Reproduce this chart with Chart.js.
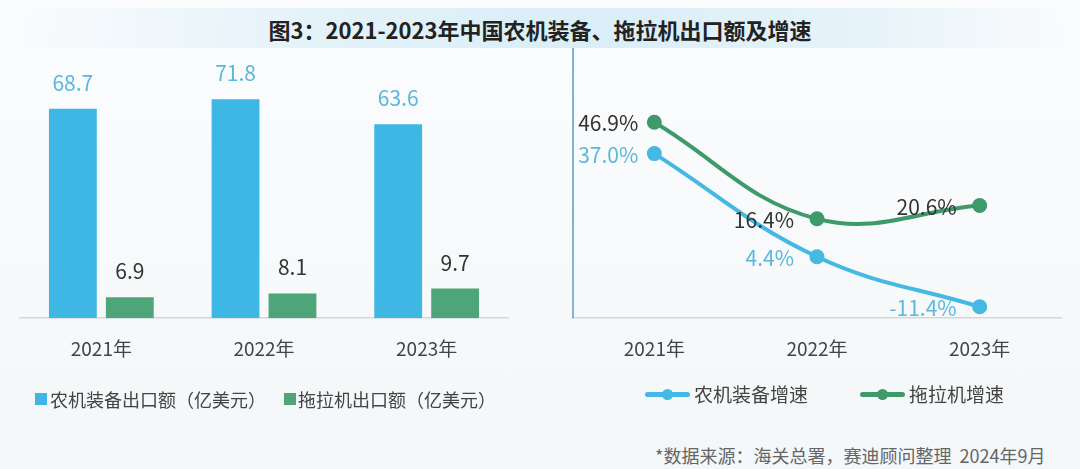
<!DOCTYPE html>
<html lang="zh">
<head>
<meta charset="utf-8">
<script src="https://cdn.jsdelivr.net/npm/chart.js@4.4.1/dist/chart.umd.min.js"></script>
<style>
  html, body { margin: 0; padding: 0; }
  body {
    width: 1080px; height: 469px; position: relative; overflow: hidden;
    background: linear-gradient(180deg, #fbfcfd 0%, #f4f7f9 100%);
    font-family: "Noto Sans CJK SC", "Noto Sans", sans-serif;
    color: #444;
  }
  .band {
    position: absolute; left: 0; top: 8px; width: 1080px; height: 40px;
    background: linear-gradient(90deg, rgba(255,255,255,0) 0%, #e3f2f9 30%, #d9eef8 55%, #e6f3f9 80%, rgba(255,255,255,0) 100%);
  }
  .title {
    position: absolute; left: 0; top: 12px; width: 1080px; text-align: center;
    font-size: 22px; font-weight: bold; color: #222; line-height: 34px;
  }
  canvas { position: absolute; }
  #barChart { left: 0; top: 50px; }
  #lineChart { left: 540px; top: 48px; }
  .legend { position: absolute; font-size: 18px; line-height: 24px; color: #444; white-space: nowrap; }
  .sq { position: absolute; width: 12px; height: 12px; }
  .sw { position: absolute; width: 45px; height: 5px; border-radius: 3px; }
  .sw::after { content: ""; position: absolute; left: 17px; top: -3px; width: 11px; height: 11px; border-radius: 50%; background: inherit; }
  .source { position: absolute; left: 655px; top: 442px; font-size: 18px; color: #666; line-height: 26px; white-space: nowrap; }
</style>
</head>
<body>
<div class="band"></div>
<div class="title">图3：2021-2023年中国农机装备、拖拉机出口额及增速</div>
<canvas id="barChart" width="540" height="340"></canvas>
<canvas id="lineChart" width="540" height="342"></canvas>

<div class="sq" style="left:35px; top:393px; background:#3fb7e5;"></div>
<div class="legend" style="left:50px; top:387px;">农机装备出口额（亿美元）</div>
<div class="sq" style="left:284px; top:393px; background:#4ea57a;"></div>
<div class="legend" style="left:298px; top:387px;">拖拉机出口额（亿美元）</div>

<div class="sw" style="left:645px; top:392px; background:#45b8e4;"></div>
<div class="legend" style="left:694px; top:382px; font-size:19px;">农机装备增速</div>
<div class="sw" style="left:860px; top:392px; background:#3f9a6b;"></div>
<div class="legend" style="left:909px; top:382px; font-size:19px;">拖拉机增速</div>

<div class="source">*数据来源：海关总署，赛迪顾问整理&nbsp;&nbsp;2024年9月</div>

<script>
// Data
const years = ['2021年', '2022年', '2023年'];
const equipExport = [68.7, 71.8, 63.6];   // 农机装备出口额（亿美元）
const tractorExport = [6.9, 8.1, 9.7];    // 拖拉机出口额（亿美元）
const equipGrowth = [37.0, 4.4, -11.4];   // 农机装备增速 %
const tractorGrowth = [46.9, 16.4, 20.6]; // 拖拉机增速 %

const BLUE = '#3fb7e5';
const GREEN_BAR = '#4ea57a';
const BLUE_LINE = '#45b8e4';
const GREEN_LINE = '#3f9a6b';
const BLUE_TEXT = '#5ab8dc';
const DARK_TEXT = '#333333';
const FONT = '"Noto Sans CJK SC", "Noto Sans", sans-serif';

// value labels above bars
const barLabels = {
    id: 'barLabels',
    afterDatasetsDraw(chart) {
        const ctx = chart.ctx;
        ctx.save();
        ctx.font = '21px ' + FONT;
        ctx.textAlign = 'center';
        ctx.textBaseline = 'middle';
        chart.data.datasets.forEach((ds, i) => {
            chart.getDatasetMeta(i).data.forEach((bar, j) => {
                ctx.fillStyle = i === 0 ? BLUE_TEXT : DARK_TEXT;
                ctx.fillText(ds.data[j].toFixed(1), bar.x, bar.y - 26);
            });
        });
        ctx.restore();
    }
};

// value labels to the left of points + blue vertical axis line
const lineLabels = {
    id: 'lineLabels',
    beforeDatasetsDraw(chart) {
        const ctx = chart.ctx;
        const a = chart.chartArea;
        ctx.save();
        ctx.strokeStyle = '#5a9fc2';
        ctx.lineWidth = 1.5;
        ctx.beginPath();
        ctx.moveTo(a.left, 0);
        ctx.lineTo(a.left, a.bottom);
        ctx.stroke();
        ctx.restore();
    },
    afterDatasetsDraw(chart) {
        const ctx = chart.ctx;
        ctx.save();
        ctx.font = '21px ' + FONT;
        ctx.textAlign = 'right';
        ctx.textBaseline = 'middle';
        chart.data.datasets.forEach((ds, i) => {
            chart.getDatasetMeta(i).data.forEach((pt, j) => {
                ctx.fillStyle = i === 0 ? BLUE_TEXT : DARK_TEXT;
                const gap = j === 0 ? 16 : 23;
                ctx.fillText(ds.data[j].toFixed(1) + '%', pt.x - gap, pt.y + 1);
            });
        });
        ctx.restore();
    }
};

new Chart(document.getElementById('barChart'), {
    type: 'bar',
    data: {
        labels: years,
        datasets: [
            { label: '农机装备出口额（亿美元）', data: equipExport, backgroundColor: BLUE },
            { label: '拖拉机出口额（亿美元）', data: tractorExport, backgroundColor: GREEN_BAR }
        ]
    },
    options: {
        responsive: false,
        animation: false,
        categoryPercentage: 0.70,
        barPercentage: 0.84,
        layout: { padding: { left: 20, right: 32, top: 9, bottom: 11 } },
        plugins: { legend: { display: false }, tooltip: { enabled: false } },
        scales: {
            x: {
                grid: { display: false, drawTicks: false },
                border: { color: '#d3d8dc', width: 1.5 },
                ticks: { color: '#444', font: { size: 19, family: FONT }, padding: 19 }
            },
            y: { display: false, min: 0, max: 85 }
        }
    },
    plugins: [barLabels]
});

new Chart(document.getElementById('lineChart'), {
    type: 'line',
    data: {
        labels: years,
        datasets: [
            { label: '农机装备增速', data: equipGrowth, borderColor: BLUE_LINE, backgroundColor: BLUE_LINE,
              borderWidth: 4, pointRadius: 7.5, pointBorderWidth: 0, tension: 0.4 },
            { label: '拖拉机增速', data: tractorGrowth, borderColor: GREEN_LINE, backgroundColor: GREEN_LINE,
              borderWidth: 4, pointRadius: 7.5, pointBorderWidth: 0, tension: 0.4 }
        ]
    },
    options: {
        responsive: false,
        animation: false,
        layout: { padding: { left: 33, right: 19, top: 6, bottom: 11 } },
        plugins: { legend: { display: false }, tooltip: { enabled: false } },
        scales: {
            x: {
                offset: true,
                grid: { display: false, drawTicks: false },
                border: { color: '#d3d8dc', width: 1.5 },
                ticks: { color: '#444', font: { size: 19, family: FONT }, padding: 19 }
            },
            y: { display: false, min: -15, max: 68 }
        }
    },
    plugins: [lineLabels]
});
</script>
</body>
</html>
